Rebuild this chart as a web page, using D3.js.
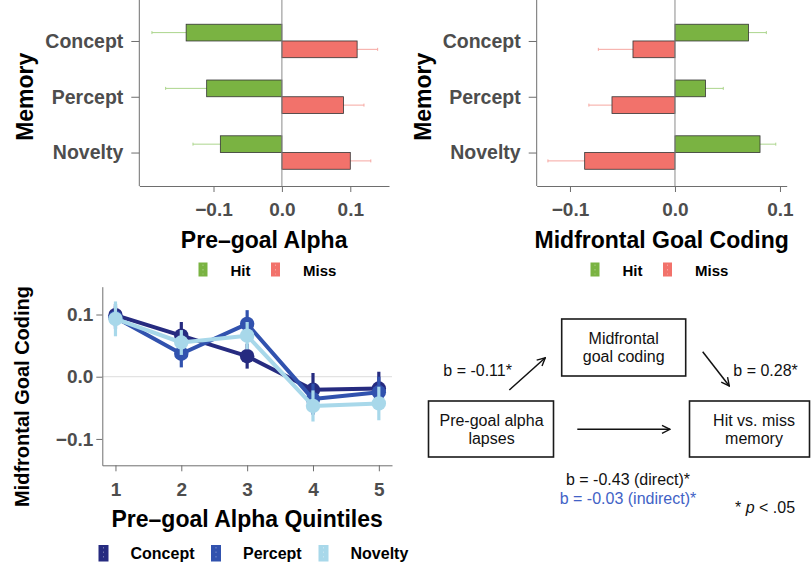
<!DOCTYPE html>
<html><head><meta charset="utf-8">
<script src="https://cdn.jsdelivr.net/npm/d3@7"></script>
<style>
body{margin:0;background:#fff;}
svg{display:block;font-family:"Liberation Sans",Arial,Helvetica,sans-serif;}
</style></head><body>
<svg id="fig" width="811" height="567"></svg>
<script>
// Memory categories shared by both bar panels
const memoryTypes = ["Concept", "Percept", "Novelty"];
const outcomes = ["Hit", "Miss"];

// Pre-goal alpha by later memory outcome (mean and SE per category)
const alphaHit = [-0.14, -0.11, -0.09];
const alphaHitSE = [0.05, 0.06, 0.04];
const alphaMiss = [0.11, 0.09, 0.10];
const alphaMissSE = [0.03, 0.03, 0.03];

// Midfrontal goal coding by later memory outcome
const codingHit = [0.070, 0.029, 0.081];
const codingHitSE = [0.017, 0.017, 0.015];
const codingMiss = [-0.040, -0.060, -0.086];
const codingMissSE = [0.033, 0.022, 0.035];

// Goal coding across pre-goal alpha quintiles
const quintiles = [1, 2, 3, 4, 5];
const quintConcept = [0.099, 0.066, 0.033, -0.021, -0.019];
const quintConceptSE = [0.018, 0.022, 0.020, 0.027, 0.027];
const quintPercept = [0.095, 0.037, 0.085, -0.036, -0.025];
const quintPerceptSE = [0.018, 0.022, 0.022, 0.025, 0.025];
const quintNovelty = [0.093, 0.055, 0.066, -0.047, -0.043];
const quintNoveltySE = [0.028, 0.020, 0.022, 0.025, 0.027];

const valueTicks = [-0.1, 0, 0.1];

// Mediation model labels
const nodeLabels = [["Pre-goal alpha", "lapses"], ["Midfrontal", "goal coding"], ["Hit vs. miss", "memory"]];
const pathA = "b = -0.11*";
const pathB = "b = 0.28*";
const pathDirect = "b = -0.43 (direct)*";
const pathIndirect = "b = -0.03 (indirect)*";

const outcomeFill = {Hit: "#7ab342", Miss: "#f2726b"};
const outcomeErr = {Hit: "#acd58d", Miss: "#f6a7a1"};
const seriesColor = {Concept: "#262b80", Percept: "#3152ae", Novelty: "#a8d8ea"};

const svg = d3.select("#fig");
svg.append("rect").attr("width", 811).attr("height", 567).attr("fill", "#fff");

const axisGray = "#6e6e6e";
const tickText = "#4d4d4d";
const fmt = d => d === 0 ? "0.0" : d3.format(".1f")(d);

function styleAxis(g, fontSize) {
  g.select(".domain").attr("stroke", axisGray).attr("stroke-width", 1);
  g.selectAll(".tick line").attr("stroke", axisGray).attr("stroke-width", 1);
  g.selectAll(".tick text").attr("fill", tickText).attr("font-size", fontSize)
    .attr("font-weight", "bold").attr("font-family", "Liberation Sans, Arial, sans-serif");
}

function legend(items, colors, keyXs, y, keyW, keyH, fontSize, baseline) {
  items.forEach((name, i) => {
    const g = svg.append("g");
    g.append("rect").attr("x", keyXs[i]).attr("y", y).attr("width", keyW).attr("height", keyH)
      .attr("fill", colors[name]);
    g.append("line").attr("x1", keyXs[i] + keyW / 2).attr("x2", keyXs[i] + keyW / 2)
      .attr("y1", y + 2).attr("y2", y + keyH - 2)
      .attr("stroke", "#fff").attr("stroke-opacity", 0.35).attr("stroke-dasharray", "1.5,3");
    g.append("text").attr("x", keyXs[i] + 32).attr("y", baseline)
      .attr("font-size", fontSize).attr("font-weight", "bold").attr("fill", "#000").text(name);
  });
}

function barPanel(cfg) {
  const top = 0, bottom = 186;
  const x = d3.scaleLinear().domain(cfg.xDomain).range([cfg.left, cfg.right]);
  const y = d3.scalePoint().domain(memoryTypes).range([7.5, bottom]).padding(0.6);
  const dodge = d3.scaleBand().domain(outcomes).range([-y.step() * 0.3, y.step() * 0.3]);

  const rows = [];
  memoryTypes.forEach((m, i) => {
    rows.push({m, o: "Hit", v: cfg.hit[i], se: cfg.hitSE[i]});
    rows.push({m, o: "Miss", v: cfg.miss[i], se: cfg.missSE[i]});
  });

  const g = svg.append("g");
  // error bars sit behind the bars
  rows.forEach(r => {
    const cy = y(r.m) + dodge(r.o) + dodge.bandwidth() / 2;
    const x1 = x(r.v - r.se), x2 = x(r.v + r.se);
    g.append("line").attr("x1", x1).attr("x2", x2).attr("y1", cy).attr("y2", cy)
      .attr("stroke", outcomeErr[r.o]).attr("stroke-width", 1);
    [x1, x2].forEach(xx => g.append("line").attr("x1", xx).attr("x2", xx)
      .attr("y1", cy - 1.5).attr("y2", cy + 1.5).attr("stroke", outcomeErr[r.o]).attr("stroke-width", 1));
  });
  g.selectAll("rect.bar").data(rows).join("rect").attr("class", "bar")
    .attr("x", d => Math.min(x(0), x(d.v)))
    .attr("width", d => Math.abs(x(d.v) - x(0)))
    .attr("y", d => y(d.m) + dodge(d.o))
    .attr("height", dodge.bandwidth())
    .attr("fill", d => outcomeFill[d.o])
    .attr("stroke", "#333").attr("stroke-width", 0.8);

  // zero reference line
  g.append("line").attr("x1", x(0)).attr("x2", x(0)).attr("y1", top).attr("y2", bottom)
    .attr("stroke", "#8a8a8a").attr("stroke-width", 1);

  const xa = svg.append("g").attr("transform", `translate(0,${bottom})`)
    .call(d3.axisBottom(x).tickValues(valueTicks).tickFormat(fmt).tickSize(6).tickSizeOuter(0).tickPadding(11));
  styleAxis(xa, 19);
  const ya = svg.append("g").attr("transform", `translate(${cfg.left},0)`)
    .call(d3.axisLeft(y).tickSize(8).tickSizeOuter(0).tickPadding(8));
  styleAxis(ya, 19.5);
  ya.select(".domain").remove();
  svg.append("line").attr("x1", cfg.left).attr("x2", cfg.left).attr("y1", top).attr("y2", bottom)
    .attr("stroke", axisGray).attr("stroke-width", 1);

  svg.append("text").attr("transform", `translate(${cfg.left - 106},${(7.5 + bottom) / 2}) rotate(-90)`)
    .attr("text-anchor", "middle").attr("font-size", 23).attr("font-weight", "bold").text("Memory");
  svg.append("text").attr("x", (cfg.left + cfg.right) / 2).attr("y", 248)
    .attr("text-anchor", "middle").attr("font-size", 23).attr("font-weight", "bold").text(cfg.title);

  legend(outcomes, outcomeFill, cfg.legendX, 262.5, 9, 14, 15, 276);
}

barPanel({left: 139.3, right: 389, xDomain: [-0.2085, 0.1566],
  hit: alphaHit, hitSE: alphaHitSE, miss: alphaMiss, missSE: alphaMissSE,
  title: "Pre\u2013goal Alpha", legendX: [198.5, 271]});
barPanel({left: 536.7, right: 786.7, xDomain: [-0.1317, 0.1064],
  hit: codingHit, hitSE: codingHitSE, miss: codingMiss, missSE: codingMissSE,
  title: "Midfrontal Goal Coding", legendX: [590.5, 663]});

// ---- quintile line panel ----
(function () {
  const x = d3.scaleLinear().domain([0.8, 5.2]).range([102.3, 392]);
  const y = d3.scaleLinear().domain([-0.1424, 0.1447]).range([465.3, 286.7]);
  const series = [
    {name: "Concept", v: quintConcept, se: quintConceptSE},
    {name: "Percept", v: quintPercept, se: quintPerceptSE},
    {name: "Novelty", v: quintNovelty, se: quintNoveltySE}
  ];
  svg.append("line").attr("x1", x(0.8)).attr("x2", x(5.2)).attr("y1", y(0)).attr("y2", y(0))
    .attr("stroke", "#dcdcdc").attr("stroke-width", 1);

  const line = d3.line().x((d, i) => x(quintiles[i])).y(d => y(d));
  series.forEach(s => {
    const g = svg.append("g");
    g.append("path").attr("d", line(s.v)).attr("fill", "none")
      .attr("stroke", seriesColor[s.name]).attr("stroke-width", 4).attr("stroke-linejoin", "round");
    s.v.forEach((v, i) => {
      g.append("line").attr("x1", x(quintiles[i])).attr("x2", x(quintiles[i]))
        .attr("y1", y(v - s.se[i])).attr("y2", y(v + s.se[i]))
        .attr("stroke", seriesColor[s.name]).attr("stroke-width", 3.2);
      g.append("circle").attr("cx", x(quintiles[i])).attr("cy", y(v)).attr("r", 7.2)
        .attr("fill", seriesColor[s.name]);
    });
  });

  const xa = svg.append("g").attr("transform", "translate(0,465.3)")
    .call(d3.axisBottom(x).tickValues(quintiles).tickFormat(d3.format("d")).tickSize(6).tickSizeOuter(0).tickPadding(11));
  styleAxis(xa, 19);
  const ya = svg.append("g").attr("transform", "translate(102.3,0)")
    .call(d3.axisLeft(y).tickValues(valueTicks).tickFormat(fmt).tickSize(6).tickSizeOuter(0).tickPadding(3));
  styleAxis(ya, 19);

  svg.append("text").attr("x", (102.3 + 392) / 2).attr("y", 526.5)
    .attr("text-anchor", "middle").attr("font-size", 23).attr("font-weight", "bold")
    .text("Pre\u2013goal Alpha Quintiles");
  svg.append("text").attr("transform", "translate(29,396.5) rotate(-90)")
    .attr("text-anchor", "middle").attr("font-size", 20).attr("font-weight", "bold")
    .text("Midfrontal Goal Coding");

  legend(series.map(s => s.name), seriesColor, [98.5, 211, 318.5], 545, 10, 16.5, 16, 558.5);
})();

// ---- mediation diagram ----
(function () {
  const g = svg.append("g").attr("font-size", 16).attr("fill", "#111");
  const boxes = [
    {x: 428.5, y: 401, w: 125, h: 56, cx: 491.5},
    {x: 561.7, y: 319, w: 124, h: 57, cx: 623.7},
    {x: 689.5, y: 401, w: 120, h: 56, cx: 754}
  ];
  boxes.forEach((b, i) => {
    g.append("rect").attr("x", b.x).attr("y", b.y).attr("width", b.w).attr("height", b.h)
      .attr("fill", "none").attr("stroke", "#1a1a1a").attr("stroke-width", 1.6);
    nodeLabels[i].forEach((t, j) => {
      g.append("text").attr("x", b.cx).attr("y", b.y + 24.5 + j * 18.5)
        .attr("text-anchor", "middle").text(t);
    });
  });

  const defs = svg.append("defs");
  defs.append("marker").attr("id", "head").attr("viewBox", "0 0 10 10")
    .attr("refX", 9).attr("refY", 5).attr("markerWidth", 10).attr("markerHeight", 10)
    .attr("markerUnits", "userSpaceOnUse").attr("orient", "auto")
    .append("path").attr("d", "M1,1 L9,5 L1,9").attr("fill", "none")
    .attr("stroke", "#111").attr("stroke-width", 1.4);

  [[509.3, 390, 545.3, 357.7], [702.7, 351.7, 729.3, 386], [577.3, 429.3, 670, 429.3]].forEach(a => {
    g.append("line").attr("x1", a[0]).attr("y1", a[1]).attr("x2", a[2]).attr("y2", a[3])
      .attr("stroke", "#111").attr("stroke-width", 1.5).attr("marker-end", "url(#head)");
  });

  g.append("text").attr("x", 443.3).attr("y", 376).text(pathA);
  g.append("text").attr("x", 733.3).attr("y", 376).text(pathB);
  g.append("text").attr("x", 628).attr("y", 484.5).attr("text-anchor", "middle").text(pathDirect);
  g.append("text").attr("x", 628).attr("y", 503.5).attr("text-anchor", "middle")
    .attr("fill", "#4262c6").text(pathIndirect);
  const sig = g.append("text").attr("x", 735).attr("y", 512.5);
  sig.append("tspan").text("* ");
  sig.append("tspan").attr("font-style", "italic").text("p");
  sig.append("tspan").text(" < .05");
})();
</script>
</body></html>
